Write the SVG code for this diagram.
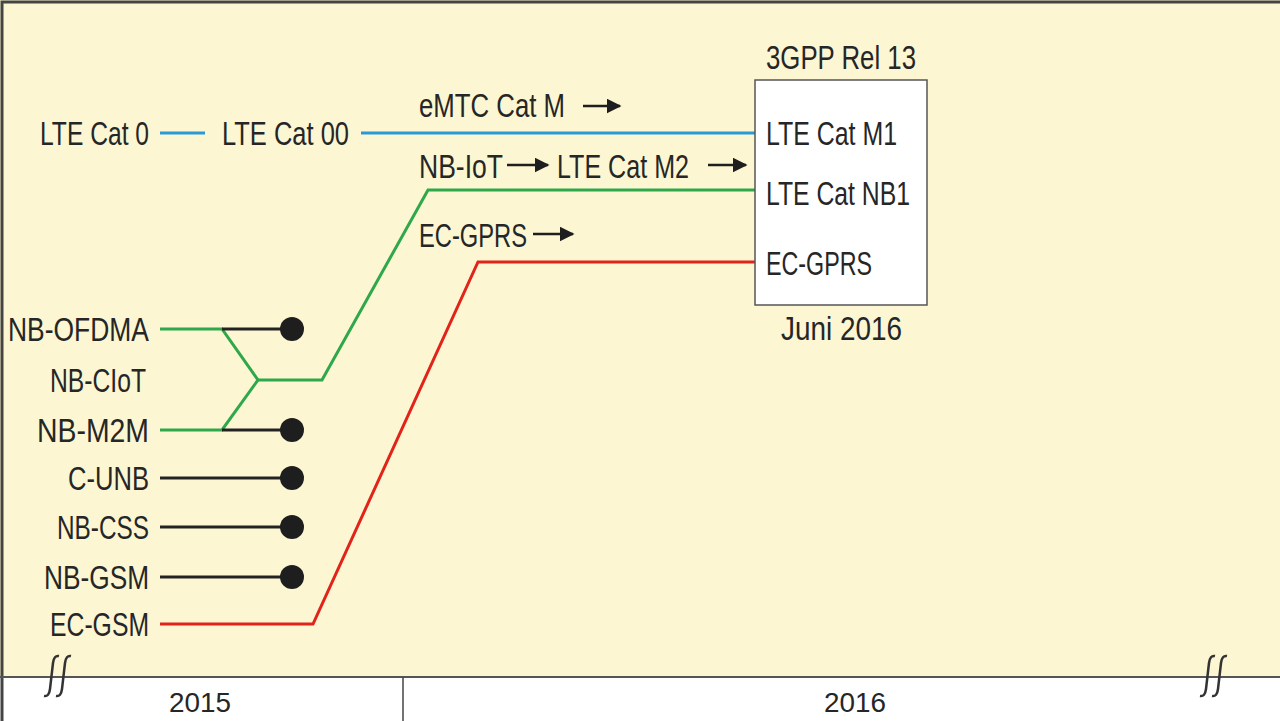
<svg xmlns="http://www.w3.org/2000/svg" width="1280" height="721" viewBox="0 0 1280 721">
<defs>
<style>
text{font-family:"Liberation Sans",Arial,sans-serif;font-size:34px;fill:#262626;}
.yr{font-size:28px;}
.blue{stroke:#2a9ad6;stroke-width:3;fill:none;}
.green{stroke:#2ea84a;stroke-width:3;fill:none;}
.red{stroke:#e2231a;stroke-width:3;fill:none;}
.blk{stroke:#222;stroke-width:3;fill:none;}
.dot{fill:#1e1e1e;}
.arr{stroke:#1e1e1e;stroke-width:2.5;fill:none;}
.brk{stroke:#333;stroke-width:2.5;fill:none;}
</style>
<marker id="ah" viewBox="0 0 10 10" refX="9" refY="5" markerWidth="6" markerHeight="6" orient="auto" markerUnits="strokeWidth">
<path d="M0,0 L10,5 L0,10 z" fill="#1e1e1e"/>
</marker>
</defs>
<rect x="0" y="0" width="1280" height="721" fill="#fcf6d3"/>
<rect x="0" y="677" width="1280" height="44" fill="#ffffff"/>
<path d="M2,721 L2,2 L1280,2" stroke="#444" stroke-width="3" fill="none"/>
<line x1="0" y1="677" x2="1280" y2="677" stroke="#555" stroke-width="2"/>
<line x1="403" y1="677" x2="403" y2="721" stroke="#444" stroke-width="1.5"/>

<g id="connectors">
<line class="blue" x1="160" y1="133" x2="205" y2="133"/>
<line class="blue" x1="361" y1="133" x2="755" y2="133"/>
<polyline class="green" points="755,190 428,190 322,380 258,380"/>
<polyline class="green" points="160,329 222,329 258,380 222,430 160,430"/>
<polyline class="red" points="755,262 478,262 313,624 160,624"/>
<line class="blk" x1="222" y1="329" x2="292" y2="329"/>
<line class="blk" x1="222" y1="430" x2="292" y2="430"/>
<line class="blk" x1="160" y1="478" x2="292" y2="478"/>
<line class="blk" x1="160" y1="527" x2="292" y2="527"/>
<line class="blk" x1="160" y1="577" x2="292" y2="577"/>
<circle class="dot" cx="292" cy="329" r="12"/>
<circle class="dot" cx="292" cy="430" r="12"/>
<circle class="dot" cx="292" cy="478" r="12"/>
<circle class="dot" cx="292" cy="527" r="12"/>
<circle class="dot" cx="292" cy="577" r="12"/>
<line class="arr" x1="583" y1="106" x2="620" y2="106" marker-end="url(#ah)"/>
<line class="arr" x1="507" y1="165" x2="548" y2="165" marker-end="url(#ah)"/>
<line class="arr" x1="708" y1="165" x2="746" y2="165" marker-end="url(#ah)"/>
<line class="arr" x1="533" y1="234" x2="573" y2="234" marker-end="url(#ah)"/>
</g>

<g id="node-lte-cat0"><text x="40" y="145" textLength="109" lengthAdjust="spacingAndGlyphs">LTE Cat 0</text></g>
<g id="node-lte-cat00"><text x="222" y="145" textLength="127" lengthAdjust="spacingAndGlyphs">LTE Cat 00</text></g>
<g id="label-emtc"><text x="419" y="117" textLength="146" lengthAdjust="spacingAndGlyphs">eMTC Cat M</text></g>
<g id="label-nbiot"><text x="419" y="178" textLength="84" lengthAdjust="spacingAndGlyphs">NB-IoT</text>
<text x="557" y="178" textLength="132" lengthAdjust="spacingAndGlyphs">LTE Cat M2</text></g>
<g id="label-ecgprs"><text x="419" y="247" textLength="108" lengthAdjust="spacingAndGlyphs">EC-GPRS</text></g>

<g id="node-rel13">
<text x="766" y="69" textLength="150" lengthAdjust="spacingAndGlyphs">3GPP Rel 13</text>
<rect x="755" y="80" width="172" height="225" fill="#ffffff" stroke="#555" stroke-width="1.5"/>
<text x="766" y="145" textLength="131" lengthAdjust="spacingAndGlyphs">LTE Cat M1</text>
<text x="766" y="205" textLength="144" lengthAdjust="spacingAndGlyphs">LTE Cat NB1</text>
<text x="766" y="275" textLength="106" lengthAdjust="spacingAndGlyphs">EC-GPRS</text>
<text x="781" y="340" textLength="121" lengthAdjust="spacingAndGlyphs">Juni 2016</text>
</g>

<g id="node-nb-ofdma"><text x="8" y="341" textLength="141" lengthAdjust="spacingAndGlyphs">NB-OFDMA</text></g>
<g id="node-nb-ciot"><text x="50" y="392" textLength="96" lengthAdjust="spacingAndGlyphs">NB-CIoT</text></g>
<g id="node-nb-m2m"><text x="37" y="442" textLength="112" lengthAdjust="spacingAndGlyphs">NB-M2M</text></g>
<g id="node-c-unb"><text x="68" y="490" textLength="81" lengthAdjust="spacingAndGlyphs">C-UNB</text></g>
<g id="node-nb-css"><text x="57" y="539" textLength="92" lengthAdjust="spacingAndGlyphs">NB-CSS</text></g>
<g id="node-nb-gsm"><text x="44" y="589" textLength="105" lengthAdjust="spacingAndGlyphs">NB-GSM</text></g>
<g id="node-ec-gsm"><text x="50" y="636" textLength="99" lengthAdjust="spacingAndGlyphs">EC-GSM</text></g>

<g id="axis">
<text class="yr" x="200" y="712" text-anchor="middle" textLength="62" lengthAdjust="spacingAndGlyphs">2015</text>
<text class="yr" x="855" y="712" text-anchor="middle" textLength="62" lengthAdjust="spacingAndGlyphs">2016</text>
<path class="brk" d="M44,696 Q49,697 50,689 L53,663 Q54,655 59,656"/>
<path class="brk" d="M56,696 Q61,697 62,689 L65,663 Q66,655 71,656"/>
<path class="brk" d="M1200,696 Q1205,697 1206,689 L1209,663 Q1210,655 1215,656"/>
<path class="brk" d="M1212,696 Q1217,697 1218,689 L1221,663 Q1222,655 1227,656"/>
</g>
</svg>
